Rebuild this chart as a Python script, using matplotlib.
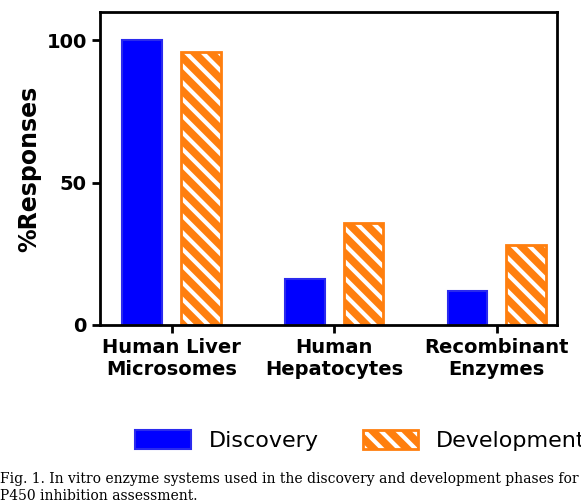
import numpy as np
import matplotlib.pyplot as plt

categories = ["Human Liver\nMicrosomes", "Human\nHepatocytes", "Recombinant\nEnzymes"]
discovery = [100, 16, 12]
development = [96, 36, 28]

plt.rcParams['hatch.linewidth'] = 3.0

fig = plt.figure(figsize=(5.81, 5.0), dpi=100)
ax = fig.add_axes([100/581, 1-325/500, 457/581, 313/500])

x = np.arange(len(categories))
w = 0.245
h1 = ax.bar(x - 0.18, discovery, w, color='#0000ff', edgecolor='#2a2aee', linewidth=1.5)
# hatch drawn in white, then orange outline on top
h2 = ax.bar(x + 0.18, development, w, color='#ff7f0e', edgecolor='white', hatch='\\\\', linewidth=0)
h3 = ax.bar(x + 0.18, development, w, fill=False, edgecolor='#ff7f0e', linewidth=2)

ax.set_xlim(-0.44, 2.37)
ax.set_ylim(0, 110)
ax.set_yticks([0, 50, 100])
ax.set_xticks(x)
ax.set_xticklabels(categories, fontsize=14, fontweight='bold')
ax.tick_params(axis='y', labelsize=14, width=2, length=6)
ax.tick_params(axis='x', width=2, length=6)
for lbl in ax.get_yticklabels():
    lbl.set_fontweight('bold')
for s in ax.spines.values():
    s.set_linewidth(2)
ax.set_ylabel('%Responses', fontsize=17, fontweight='bold')

ax.legend([h1, (h2, h3)], ['Discovery', 'Development'], loc='upper center',
          bbox_to_anchor=(0.57, -0.27), ncol=2, frameon=False,
          fontsize=16, handlelength=2.5, handleheight=1.0, columnspacing=2.0)

fig.text(0.0, 0.035, "Fig. 1. In vitro enzyme systems used in the discovery and development phases for",
         fontsize=10, family='DejaVu Serif', ha='left')
fig.text(0.0, 0.0, "P450 inhibition assessment.", fontsize=10, family='DejaVu Serif', ha='left')

fig.savefig('out.png', dpi=100)
